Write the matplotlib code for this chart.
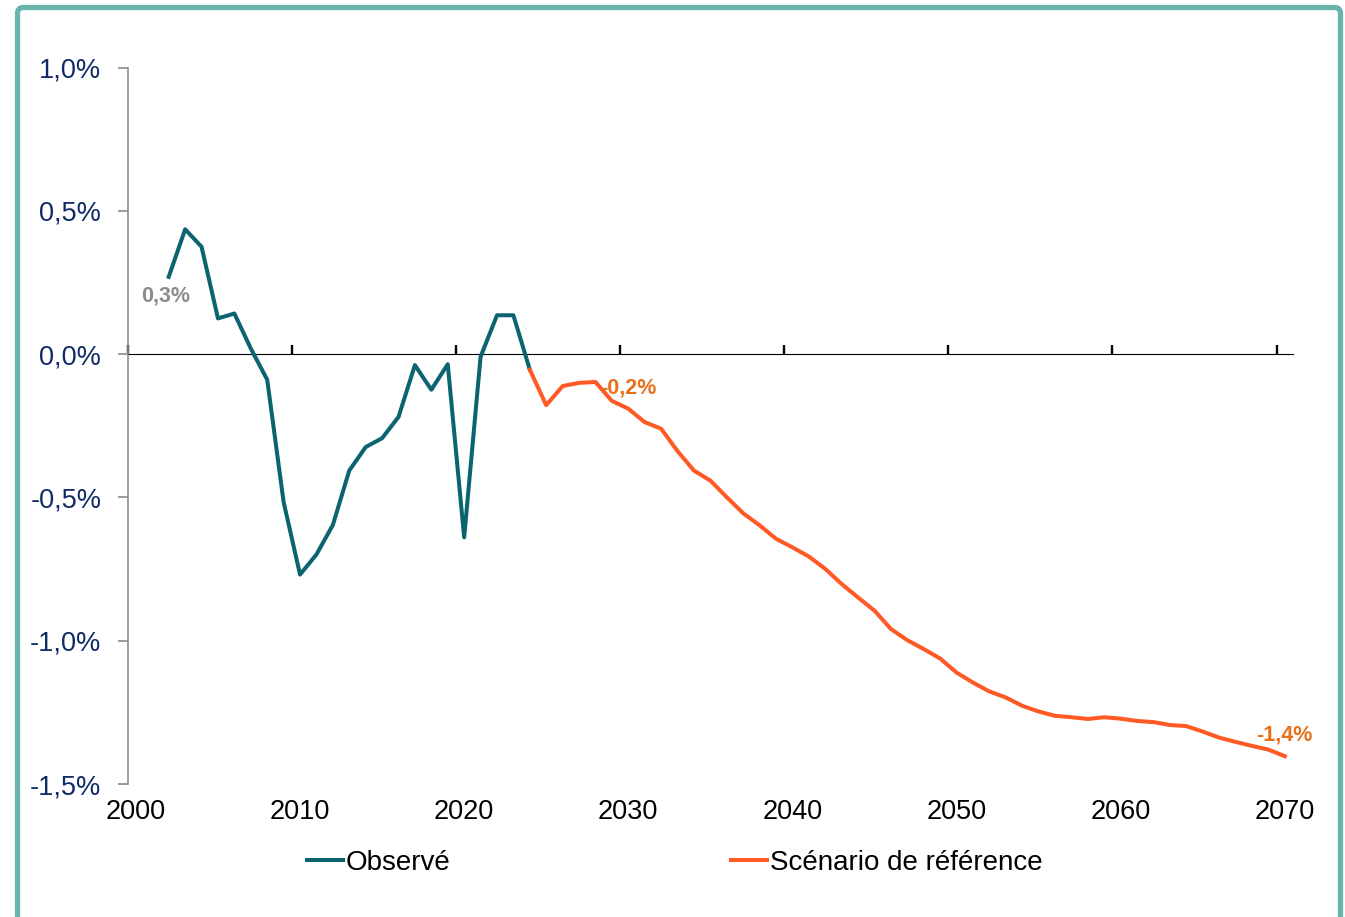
import matplotlib
matplotlib.use('Agg')
import matplotlib.pyplot as plt
from matplotlib.patches import FancyBboxPatch
from matplotlib.ticker import FuncFormatter

plt.rcParams['font.family'] = ['Liberation Sans', 'DejaVu Sans']

# Observed series (annual change, %)
obs_years = list(range(2002, 2025))
obs_values = [0.270, 0.436, 0.375, 0.125, 0.142, 0.020, -0.089, -0.516, -0.769,
              -0.699, -0.596, -0.406, -0.324, -0.293, -0.219, -0.038, -0.124,
              -0.035, -0.639, -0.009, 0.136, 0.136, -0.054]

# Reference scenario (annual change, %)
ref_years = list(range(2024, 2071))
ref_values = [-0.054, -0.178, -0.111, -0.100, -0.097, -0.163, -0.190, -0.237,
              -0.260, -0.338, -0.406, -0.441, -0.499, -0.555, -0.597, -0.644,
              -0.674, -0.706, -0.749, -0.802, -0.849, -0.895, -0.959, -0.998,
              -1.029, -1.062, -1.111, -1.146, -1.177, -1.198, -1.227, -1.247,
              -1.262, -1.267, -1.273, -1.267, -1.272, -1.280, -1.284, -1.294,
              -1.298, -1.317, -1.338, -1.353, -1.367, -1.380, -1.403]

year_ticks = list(range(2000, 2071, 10))
y_ticks = [-1.5, -1.0, -0.5, 0.0, 0.5, 1.0]

TEAL = '#0B6470'
ORANGE = '#FF5A25'
LABEL_ORANGE = '#E8701A'
NAVY = '#0F2A66'

fig = plt.figure(figsize=(13.45, 9.17), dpi=100)
W, H = 1345, 917
ax = fig.add_axes([127.7 / W, 133 / H, (1293 - 127.7) / W, (784 - 67.7) / H])

ax.plot(obs_years, obs_values, color=TEAL, lw=2.9, label='Observé')
ax.plot(ref_years, ref_values, color=ORANGE, lw=2.9, label='Scénario de référence')

ax.set_xlim(1999.5, 2070.5)
ax.set_ylim(-1.5, 1.0)

for s in ['top', 'right', 'bottom']:
    ax.spines[s].set_visible(False)
ax.spines['left'].set_color('#8C8C8C')
ax.spines['left'].set_linewidth(1.2)

ax.set_yticks(y_ticks)
ax.yaxis.set_major_formatter(FuncFormatter(lambda v, p: f'{v:.1f}%'.replace('.', ',')))
ax.tick_params(axis='y', length=7, width=1.2, color='#8C8C8C', pad=12,
               labelsize=19.5, labelcolor=NAVY)

ax.set_xticks(year_ticks)
ax.set_xticklabels([str(y) for y in year_ticks])
ax.tick_params(axis='x', length=0, pad=11, labelsize=19.5, labelcolor='black')

# zero line with category-boundary tick marks
zero_frac = (0 - y_ticks[0]) / (y_ticks[-1] - y_ticks[0])
sec = ax.secondary_xaxis(zero_frac)
sec.set_xticks([y - 0.5 for y in year_ticks])
sec.set_xticklabels([])
sec.spines['bottom'].set_linewidth(1.7)
sec.spines['bottom'].set_color('black')
sec.tick_params(axis='x', length=6.5, width=1.7, color='black', direction='out')

# value labels
ax.annotate('0,3%', xy=(obs_years[0], obs_values[0]), xytext=(-2, -14),
            textcoords='offset points', ha='center', va='center',
            fontsize=15.5, fontweight='bold', color='#8C8C8C')
i2030 = ref_years.index(2030)
ax.annotate('-0,2%', xy=(ref_years[i2030], ref_values[i2030]), xytext=(0, 15),
            textcoords='offset points', ha='center', va='center',
            fontsize=15.5, fontweight='bold', color=LABEL_ORANGE)
ax.annotate('-1,4%', xy=(ref_years[-1], ref_values[-1]), xytext=(0, 15),
            textcoords='offset points', ha='center', va='center',
            fontsize=15.5, fontweight='bold', color=LABEL_ORANGE)

fig.legend(loc='center', bbox_to_anchor=(675 / W, 1 - 863 / H), ncol=2,
           frameon=False, fontsize=20, handlelength=1.3, handletextpad=0.1,
           columnspacing=10.1)

# rounded teal frame
frame = FancyBboxPatch((17.5, -30), 1323, 909.5 + 30,
                       boxstyle='round,pad=0,rounding_size=6',
                       transform=None, fill=False, ec='#6BB3AD', lw=3.8)
fig.patches.append(frame)

fig.savefig('out.png', dpi=100)
